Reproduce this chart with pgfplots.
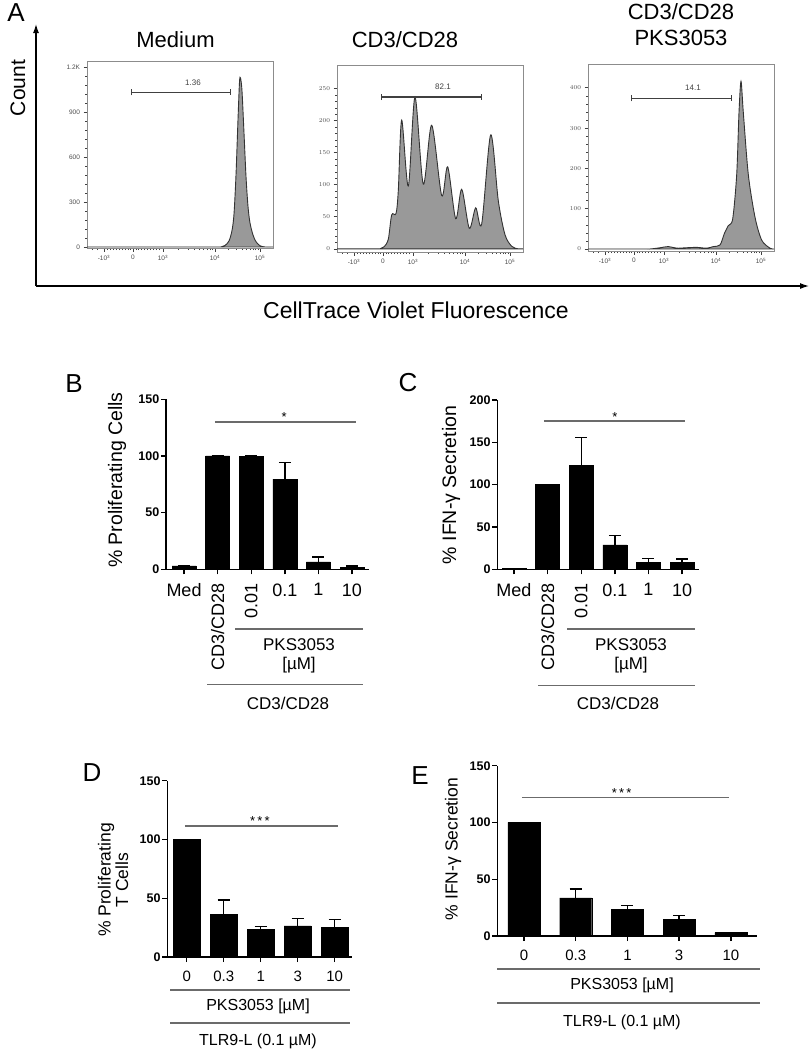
\documentclass[border=0pt]{standalone}
\usepackage{fontspec}
\setmainfont{Liberation Sans}
\usepackage{pgfplots}
\pgfplotsset{compat=1.18}
\usetikzlibrary{arrows.meta}
\newcommand{\fs}[1]{\fontsize{#1}{#1}\selectfont}
\definecolor{histfill}{gray}{0.6}
\definecolor{framegray}{gray}{0.55}
\definecolor{siggray}{gray}{0.42}

\tikzset{
 gate/.style={black!75, line width=1.1pt, {Bar[width=6pt]}-{Bar[width=6pt]}},
 sig/.style={siggray, line width=1.4pt}
}
\pgfplotsset{
 hist/.style={scale only axis, width=186pt, height=187pt, anchor=south west,
   xmin=-46, xmax=140,
   axis line style={framegray, line width=0.7pt}, tick align=outside, tick pos=left,
   major tick length=3.5pt, minor tick length=2pt, tick style={black!75, line width=0.6pt},
   xtick={-29,0,30,82,127},
   xticklabels={-10\textsuperscript{3},0,10\textsuperscript{3},10\textsuperscript{4},10\textsuperscript{5}},
   minor xtick={-41,-36,-26,-23,-20,-17,-14,-11,-8,-5,-3,3,5,8,11,14,17,20,23,26,45.7,54.8,61.3,66.3,70.5,73.9,77,79.6,95.5,103.5,109.1,113.5,117,120,122.6,124.9},
   minor y tick num=4,
   ticklabel style={font=\fs{6.5}, text=black!70},
   clip=false},
 histline/.style={fill=histfill, draw=black!80, line width=0.9pt, smooth, tension=0.5},
 barax/.style={scale only axis, anchor=south west,
   axis x line*=bottom, axis y line*=left, axis line style={line width=1.4pt, -},
   tick align=outside, major tick length=5pt, tick style={line width=1.4pt, black},
   ymin=0, enlargelimits=false, clip=false,
   yticklabel style={font=\bfseries\fs{12.5}, inner sep=1.5pt},
   xticklabel style={anchor=north, inner sep=0pt}},
 mybar/.style={ybar, bar width=#1, fill=black, draw=black,
   error bars/.cd, y dir=plus, y explicit,
   error bar style={line width=1.4pt, black},
   error mark options={rotate=90, line width=1.4pt, mark size=6pt, black}}
}

\begin{document}
\begin{tikzpicture}
\path[use as bounding box] (0pt,0pt) rectangle (810pt,-1050pt);

% ---------------- Panel A histograms ----------------
\begin{axis}[hist, at={(87pt,-248pt)}, ymin=-7, ymax=1240,
  ytick={0,300,600,900,1200}, yticklabels={0,300,600,900,1.2K}]
\addplot[histline] coordinates {(-46,0) (80,0) (88,0) (92,10) (96,40) (99,110) (101,220) (103,480) (105,850) (106.5,1100) (107.5,1127) (109,1040) (111,760) (113,470) (115,270) (117,160) (120,80) (123,35) (127,8) (132,0) (140,0)} \closedcycle;
\draw[gate] (axis cs:-2.5,1030) -- (axis cs:98,1030);
\node[font=\fs{8}, text=black!75] at (axis cs:60,1095) {1.36};
\end{axis}

\begin{axis}[hist, at={(337pt,-252pt)}, ymin=-5, ymax=287,
  ytick={0,50,100,150,200,250}]
\addplot[histline] coordinates {(-46,0) (-10,0) (-3,0) (1,3) (5.3,15) (8.7,53) (13,55) (15.3,91) (18.7,201) (25.3,98) (32,237) (40.3,101) (48.7,193) (58.7,83) (64.7,128) (72.7,47) (78.7,93) (86.3,32) (92.7,64) (98.7,39) (107.7,178) (115.3,75) (122,22) (128.7,4) (135,0) (140,0)} \closedcycle;
\draw[gate] (axis cs:-2.3,237) -- (axis cs:98.7,237);
\node[font=\fs{8}, text=black!75] at (axis cs:60,253) {82.1};
\end{axis}

\begin{axis}[hist, at={(588pt,-251pt)}, ymin=-5, ymax=459,
  ytick={0,100,200,300,400}]
\addplot[histline] coordinates {(-46,0) (10,0) (16,0) (26,3) (34.3,6) (42.7,2) (52,3) (62.7,4) (72.7,2) (79.3,6) (86,10) (90.3,38) (94.3,58) (98.7,75) (102.7,185) (105,339) (107,416) (109.3,339) (114.3,185) (121,79) (127.7,22) (136,2) (140,0)} \closedcycle;
\draw[gate] (axis cs:-3.3,374) -- (axis cs:97.7,374);
\node[font=\fs{8}, text=black!75] at (axis cs:59,401) {14.1};
\end{axis}

% ---------------- Panel B ----------------
\begin{axis}[barax, at={(166pt,-569.3pt)}, width=203pt, height=170pt,
  xmin=-0.536, xmax=5.506, ymax=150,
  ytick={0,50,100,150}, yticklabels={0,50,100,150},
  xtick={0,1,2,3,4,5},
  xticklabels={Med,\rotatebox{90}{CD3/CD28},\rotatebox{90}{0.01},0.1,1,10},
  xticklabel style={font=\fs{18}, yshift=-9pt}]
\addplot[mybar=24pt] coordinates {(0,3) +- (0,0) (1,100) +- (0,0) (2,99.5) +- (0,0.8) (3,79.5) +- (0,14.5) (4,6.5) +- (0,4.5) (5,2) +- (0,1)};
\draw[sig] (axis cs:0.92,130) -- (axis cs:5.12,130);
\node[font=\fs{13}, anchor=base, inner sep=0pt] at (axis cs:2.98,130) {*};
\end{axis}

% ---------------- Panel C ----------------
\begin{axis}[barax, at={(497.3pt,-569.3pt)}, width=201.7pt, height=169.3pt,
  xmin=-0.497, xmax=5.506, ymax=200,
  ytick={0,50,100,150,200}, yticklabels={0,50,100,150,200},
  xtick={0,1,2,3,4,5},
  xticklabels={Med,\rotatebox{90}{CD3/CD28},\rotatebox{90}{0.01},0.1,1,10},
  xticklabel style={font=\fs{18}, yshift=-9pt}]
\addplot[mybar=24pt] coordinates {(0,1) +- (0,0) (1,100) +- (0,0) (2,123) +- (0,33) (3,29) +- (0,11) (4,8.5) +- (0,4) (5,8.5) +- (0,3.5)};
\draw[sig] (axis cs:0.89,175) -- (axis cs:5.09,175);
\node[font=\fs{13}, anchor=base, inner sep=0pt] at (axis cs:3.0,175) {*};
\end{axis}

% ---------------- Panel D ----------------
\begin{axis}[barax, at={(167.3pt,-957pt)}, width=184.7pt, height=176.3pt,
  xmin=-0.524, xmax=4.468, ymax=150,
  ytick={0,50,100,150}, yticklabels={0,50,100,150},
  xtick={0,1,2,3,4}, xticklabels={0,0.3,1,3,10},
  xticklabel style={font=\fs{15}, yshift=-9pt}]
\addplot[mybar=27pt] coordinates {(0,100) +- (0,0) (1,36.5) +- (0,12) (2,23.5) +- (0,2.5) (3,26.5) +- (0,6.5) (4,25.5) +- (0,6.5)};
\draw[sig] (axis cs:-0.05,111.6) -- (axis cs:4.09,111.6);
\node[font=\fs{13}, anchor=base, inner sep=0pt] at (axis cs:1.98,111.6) {*\,*\,*};
\end{axis}

% ---------------- Panel E ----------------
\begin{axis}[barax, at={(497.3pt,-936pt)}, width=259.4pt, height=170.3pt,
  xmin=-0.516, xmax=4.5, ymax=150,
  ytick={0,50,100,150}, yticklabels={0,50,100,150},
  xtick={0,1,2,3,4}, xticklabels={0,0.3,1,3,10},
  xticklabel style={font=\fs{15}, yshift=-9pt}]
\addplot[mybar=32pt] coordinates {(0,100) +- (0,0) (1,33.5) +- (0,8) (2,23.5) +- (0,3.5) (3,14.5) +- (0,3.5) (4,3) +- (0,0)};
\draw[sig] (axis cs:-0.04,122) -- (axis cs:3.97,122);
\node[font=\fs{13}, anchor=base, inner sep=0pt] at (axis cs:1.89,122) {*\,*\,*};
\end{axis}

% ---------------- annotations ----------------
\begin{scope}[x=1pt, y=-1pt]
\draw[line width=1.2pt, -{Latex[length=9pt,width=6pt]}] (36,286) -- (36,24);
\draw[line width=1.2pt, -{Latex[length=9pt,width=6pt]}] (36,286) -- (809,286);
\node[font=\fs{26}] at (16,13) {A};
\node[font=\fs{21}, rotate=90] at (18,88) {Count};
\node[font=\fs{23}] at (416,310) {CellTrace Violet Fluorescence};
\node[font=\fs{22}] at (175.5,40) {Medium};
\node[font=\fs{22}] at (405,40) {CD3/CD28};
\node[font=\fs{22}] at (681,12) {CD3/CD28};
\node[font=\fs{22}] at (681,38) {PKS3053};

\node[font=\fs{26}] at (74,384) {B};
\node[font=\fs{26}] at (408,383) {C};
\node[font=\fs{26}] at (92,773) {D};
\node[font=\fs{26}] at (420,776) {E};

\node[font=\fs{19.5}, rotate=90] at (117,480) {\% Proliferating Cells};
\node[font=\fs{19.5}, rotate=90] at (451,485) {\% IFN-γ Secretion};
\node[font=\fs{17.5}, rotate=90, align=center] at (113,880) {\% Proliferating\\T Cells};
\node[font=\fs{17.5}, rotate=90] at (453,849) {\% IFN-γ Secretion};

\draw[sig] (235,629) -- (363,629);
\node[font=\fs{17}] at (299,645) {PKS3053};
\node[font=\fs{17}] at (299,665) {[µM]};
\draw[sig] (207,684.7) -- (363,684.7);
\node[font=\fs{17}] at (288,703) {CD3/CD28};
\draw[sig] (567,629) -- (695,629);
\node[font=\fs{17}] at (631,645) {PKS3053};
\node[font=\fs{17}] at (631,665) {[µM]};
\draw[sig] (538,685.5) -- (695,685.5);
\node[font=\fs{17}] at (618,703) {CD3/CD28};
\draw[sig] (170,990) -- (350,990);
\node[font=\fs{16}] at (258,1006) {PKS3053 [µM]};
\draw[sig] (170,1023) -- (350,1023);
\node[font=\fs{16}] at (258,1041) {TLR9-L (0.1 µM)};
\draw[sig] (497,969) -- (760,969);
\node[font=\fs{16}] at (622,985) {PKS3053 [µM]};
\draw[sig] (497,1003) -- (760,1003);
\node[font=\fs{16}] at (622,1022) {TLR9-L (0.1 µM)};
\end{scope}
\end{tikzpicture}
\end{document}
